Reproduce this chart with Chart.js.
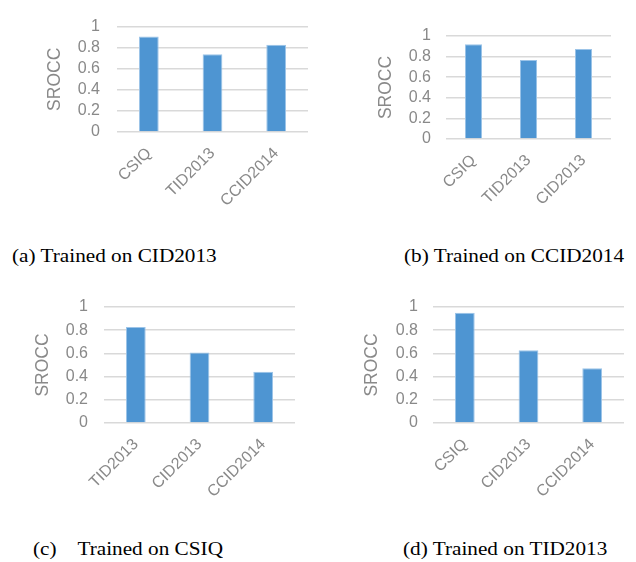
<!DOCTYPE html>
<html>
<head>
<meta charset="utf-8">
<script src="https://cdn.jsdelivr.net/npm/chart.js@4/dist/chart.umd.min.js"></script>
<style>
  html, body { margin: 0; padding: 0; background: #fff; }
  #page { position: relative; width: 636px; height: 562px; overflow: hidden; }
  canvas { position: absolute; }
  .cap {
    position: absolute; font-family: "Liberation Serif", "Times New Roman", serif;
    font-size: 18px; color: #000; white-space: pre; line-height: 1;
    transform-origin: 0 50%; transform: scaleX(1.18);
  }
</style>
</head>
<body>
<div id="page">
  <canvas id="cA" width="318" height="240" style="left:0;top:0"></canvas>
  <canvas id="cB" width="318" height="240" style="left:318px;top:0"></canvas>
  <canvas id="cC" width="318" height="260" style="left:0;top:270px"></canvas>
  <canvas id="cD" width="318" height="260" style="left:318px;top:270px"></canvas>
  <div class="cap" id="capA" style="left:12px;top:247px"></div>
  <div class="cap" id="capB" style="left:404px;top:247px"></div>
  <div class="cap" id="capC" style="left:33px;top:540px"></div>
  <div class="cap" id="capD" style="left:403px;top:540px"></div>
</div>
<script>
// SROCC of each test set, per training set
const datasetsA = ['CSIQ', 'TID2013', 'CCID2014'];
const sroccA = [0.905, 0.737, 0.828];
const datasetsB = ['CSIQ', 'TID2013', 'CID2013'];
const sroccB = [0.92, 0.768, 0.875];
const datasetsC = ['TID2013', 'CID2013', 'CCID2014'];
const sroccC = [0.827, 0.608, 0.441];
const datasetsD = ['CSIQ', 'CID2013', 'CCID2014'];
const sroccD = [0.951, 0.628, 0.473];

const yTicks = [0, 0.2, 0.4, 0.6, 0.8, 1];
const yTitle = 'SROCC';
const captions = [
  '(a) Trained on CID2013',
  '(b) Trained on CCID2014',
  '(c)    Trained on CSIQ',
  '(d) Trained on TID2013'
];

const GRAY = '#898989';
const SANS = '"Liberation Sans", Arial, sans-serif';

// one bar panel; g gives the plot area's edges inside the canvas
function makeChart(id, labels, values, g) {
  const cv = document.getElementById(id);
  const W = cv.width, H = cv.height;
  return new Chart(cv, {
    type: 'bar',
    data: {
      labels: labels,
      datasets: [{
        data: values,
        backgroundColor: '#4e95d2',
        borderColor: '#9cc4e8',
        borderWidth: 1,
        barPercentage: 0.31,
        categoryPercentage: 1
      }]
    },
    options: {
      responsive: false,
      animation: false,
      devicePixelRatio: 1,
      layout: { padding: { left: g.axisLeft, top: g.top, right: W - g.right, bottom: 0 } },
      plugins: { legend: { display: false }, tooltip: { enabled: false } },
      scales: {
        x: {
          grid: { display: false },
          border: { display: false },
          ticks: {
            color: GRAY, font: { family: SANS, size: 16 },
            minRotation: 45, maxRotation: 45, padding: g.xPad, autoSkip: false
          },
          afterFit: s => { s.height = H - g.bottom; }
        },
        y: {
          min: 0, max: 1,
          afterBuildTicks: s => { s.ticks = yTicks.map(v => ({ value: v })); },
          grid: { color: '#d9d9d9', lineWidth: 1.5, drawTicks: false },
          border: { display: false },
          ticks: {
            color: GRAY, font: { family: SANS, size: 16 }, padding: g.yPad,
            autoSkip: false,
            callback: v => String(+v.toFixed(1))
          },
          title: {
            display: true, text: yTitle, color: GRAY,
            font: { family: SANS, size: 17.5, lineHeight: 1.2 }, padding: 0
          },
          afterFit: s => { s.width = g.left - g.axisLeft; }
        }
      }
    }
  });
}

makeChart('cA', datasetsA, sroccA, { axisLeft: 45, left: 117, right: 308, top: 16, bottom: 132, yPad: 17, xPad: 4 });
makeChart('cB', datasetsB, sroccB, { axisLeft: 58, left: 128, right: 293, top: 36, bottom: 139, yPad: 15, xPad: 4 });
makeChart('cC', datasetsC, sroccC, { axisLeft: 33, left: 104, right: 295, top: 37, bottom: 153, yPad: 16, xPad: 4 });
makeChart('cD', datasetsD, sroccD, { axisLeft: 44, left: 115, right: 306, top: 37, bottom: 153, yPad: 15, xPad: 4 });

['capA', 'capB', 'capC', 'capD'].forEach((id, i) => {
  document.getElementById(id).textContent = captions[i];
});
</script>
</body>
</html>
